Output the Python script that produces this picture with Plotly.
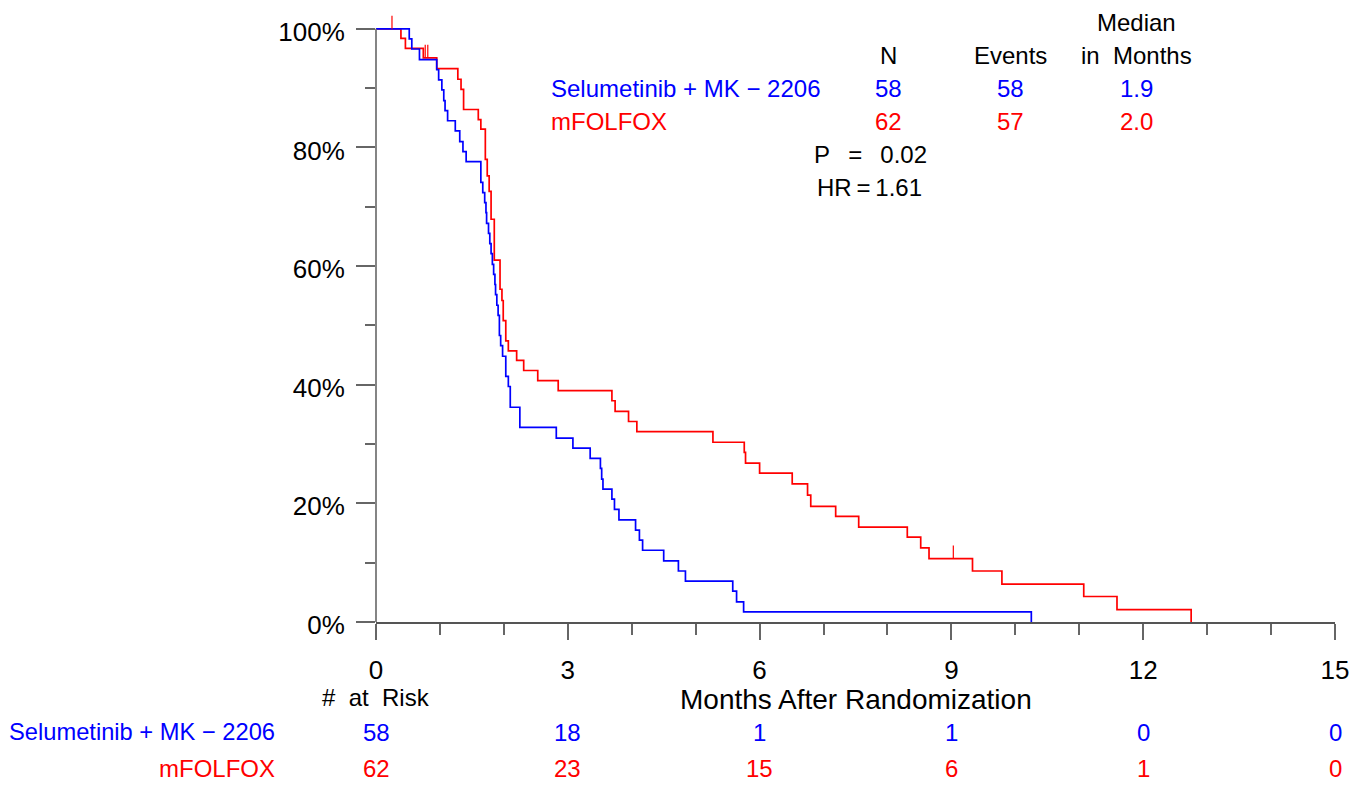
import plotly.graph_objects as go

# ---------------- data ----------------
blue_name = "Selumetinib + MK \u2212 2206"
red_name = "mFOLFOX"

blue_t = [0, 0.52, 0.56, 0.68, 0.95, 0.98, 1.03, 1.06, 1.08, 1.12, 1.24, 1.31, 1.36, 1.41,
          1.64, 1.67, 1.70, 1.72, 1.73, 1.76, 1.78, 1.80, 1.82, 1.84, 1.86, 1.87, 1.89, 1.91,
          1.93, 1.95, 1.98, 2.03, 2.07, 2.10, 2.25, 2.82, 3.08, 3.35, 3.51, 3.53, 3.55, 3.69,
          3.73, 3.80, 4.06, 4.12, 4.17, 4.50, 4.73, 4.84, 5.58, 5.64, 5.75, 10.25]
blue_s = [100, 98.3, 96.6, 94.8, 93.1, 91.4, 89.7, 87.9, 86.2, 84.5, 82.8, 81.0, 79.3, 77.6,
          74.1, 72.4, 70.7, 69.0, 67.2, 65.5, 63.8, 62.1, 60.3, 58.6, 56.9, 55.2, 53.4, 51.7,
          48.3, 46.6, 44.8, 41.4, 39.7, 36.2, 32.8, 31.0, 29.3, 27.6, 25.9, 24.1, 22.4, 20.7,
          19.0, 17.2, 15.5, 13.8, 12.1, 10.3, 8.6, 6.9, 5.2, 3.4, 1.7, 0]

red_t = [0, 0.39, 0.46, 0.74, 0.95, 1.28, 1.33, 1.37, 1.60, 1.64, 1.71, 1.74, 1.77, 1.80,
         1.85, 1.94, 1.97, 1.99, 2.03, 2.07, 2.20, 2.31, 2.53, 2.85, 3.69, 3.74, 3.95, 4.08,
         5.27, 5.76, 5.78, 6.00, 6.51, 6.75, 6.80, 7.19, 7.55, 8.31, 8.52, 8.65, 9.33, 9.79,
         11.07, 11.59, 12.75]
red_s = [100, 98.4, 96.7, 95.1, 93.3, 91.5, 89.8, 86.4, 84.7, 83.1, 78.0, 75.2, 72.6, 67.9,
         61.0, 56.1, 54.2, 50.8, 47.4, 45.7, 44.1, 42.4, 40.7, 39.0, 37.3, 35.5, 33.8, 32.1,
         30.3, 28.6, 26.8, 25.1, 23.3, 21.4, 19.5, 17.8, 16.0, 14.3, 12.5, 10.7, 8.6, 6.4,
         4.3, 2.1, 0]

red_cens_t = [0.25, 0.77, 0.81, 9.03]
red_cens_s = [100, 95.1, 95.1, 10.7]

risk_times = [0, 3, 6, 9, 12, 15]
blue_risk = [58, 18, 1, 1, 0, 0]
red_risk = [62, 23, 15, 6, 1, 0]

table_hdr = ["N", "Events", "in\u00a0\u00a0Months"]
table_top = "Median"
blue_table = ["58", "58", "1.9"]
red_table = ["62", "57", "2.0"]
p_text = "P\u00a0\u00a0\u2009=\u00a0\u00a0\u20090.02"
hr_text = "HR\u2009=\u20091.61"

y_ticks = [0, 20, 40, 60, 80, 100]
y_ticktext = ["0%", "20%", "40%", "60%", "80%", "100%"]
y_minor = [10, 30, 50, 70, 90]
x_ticks = [0, 3, 6, 9, 12, 15]
x_minor = [1, 2, 4, 5, 7, 8, 10, 11, 13, 14]

# ---------------- styling ----------------
BLUE = "#0000ff"
RED = "#ff0000"
FONT = "Liberation Sans, Arial, Helvetica, sans-serif"
FS = 24
AXC = "#666666"
TICK_UP = 2.2  # censor tick height (in % units)

fig = go.Figure()
fig.add_trace(go.Scatter(x=red_t, y=red_s, mode="lines", line=dict(color=RED, width=1.7, shape="hv"),
                         hoverinfo="skip", showlegend=False))
fig.add_trace(go.Scatter(x=blue_t, y=blue_s, mode="lines", line=dict(color=BLUE, width=1.7, shape="hv"),
                         hoverinfo="skip", showlegend=False))

cx, cy = [], []
for t, s in zip(red_cens_t, red_cens_s):
    cx += [t, t, None]
    cy += [s, s + TICK_UP, None]
fig.add_trace(go.Scatter(x=cx, y=cy, mode="lines", line=dict(color=RED, width=1.2),
                         hoverinfo="skip", showlegend=False))

# y-axis line from 0 to 100 only
fig.add_shape(type="line", xref="paper", yref="y", x0=0, x1=0, y0=0, y1=100,
              line=dict(color=AXC, width=1.6))

PLOT_H = 608.0
def py(pix):
    # page pixel y -> paper coordinate
    return (622.0 - pix) / PLOT_H

def px(pix):
    # page pixel x -> paper coordinate
    return (pix - 376.0) / 959.0

def txt(x, xref, y, text, color="black", size=FS, xanchor="center"):
    return dict(x=x, xref=xref, y=y, yref="paper", text=text, showarrow=False,
                font=dict(size=size, color=color, family=FONT), xanchor=xanchor, yanchor="middle")

ann = []
ann.append(txt(7.5, "x", py(699), "Months After Randomization", size=28))
ann.append(txt(0, "x", py(697), "#\u00a0\u00a0at\u00a0\u00a0Risk"))
ann.append(txt(px(277), "paper", py(732), blue_name, BLUE, size=23.7, xanchor="right"))
ann.append(txt(px(277), "paper", py(768), red_name, RED, xanchor="right"))
for t, b, r in zip(risk_times, blue_risk, red_risk):
    ann.append(txt(t, "x", py(732), str(b), BLUE))
    ann.append(txt(t, "x", py(768), str(r), RED))

col_x = [8.01, 9.93, 11.89]
ann.append(txt(col_x[2], "x", py(22), table_top))
for xx, h in zip(col_x, table_hdr):
    ann.append(txt(xx, "x", py(55), h))
ann.append(txt(px(549), "paper", py(88), blue_name, BLUE, xanchor="left"))
ann.append(txt(px(549), "paper", py(121), red_name, RED, xanchor="left"))
for xx, b, r in zip(col_x, blue_table, red_table):
    ann.append(txt(xx, "x", py(88), b, BLUE))
    ann.append(txt(xx, "x", py(121), r, RED))
ann.append(txt(7.73, "x", py(154), p_text))
ann.append(txt(7.72, "x", py(187), hr_text))

fig.update_layout(
    width=1348, height=778,
    margin=dict(l=368, r=21, t=6, b=164, pad=0),
    paper_bgcolor="white", plot_bgcolor="white",
    font=dict(family=FONT, color="black"),
    annotations=ann,
    showlegend=False,
    xaxis=dict(range=[0, 15], tickvals=x_ticks, ticks="outside", ticklen=16, tickwidth=1.5,
               tickcolor=AXC, showline=True, linecolor="#555555", linewidth=2, showgrid=False,
               zeroline=False, tickfont=dict(size=26, family=FONT, color="black"),
               ticklabelstandoff=8,
               minor=dict(tickvals=x_minor, ticks="outside", ticklen=11, tickwidth=1.5, tickcolor=AXC)),
    yaxis=dict(range=[0, 102.5], tickvals=y_ticks, ticktext=y_ticktext, ticks="outside", ticklen=19,
               tickwidth=1.5, tickcolor=AXC, showline=False, showgrid=False, zeroline=False,
               tickfont=dict(size=26, family=FONT, color="black"), ticklabelstandoff=6,
               ticklabelshift=3,
               minor=dict(tickvals=y_minor, ticks="outside", ticklen=10, tickwidth=1.5, tickcolor=AXC)),
)

fig.write_html("out.html")
